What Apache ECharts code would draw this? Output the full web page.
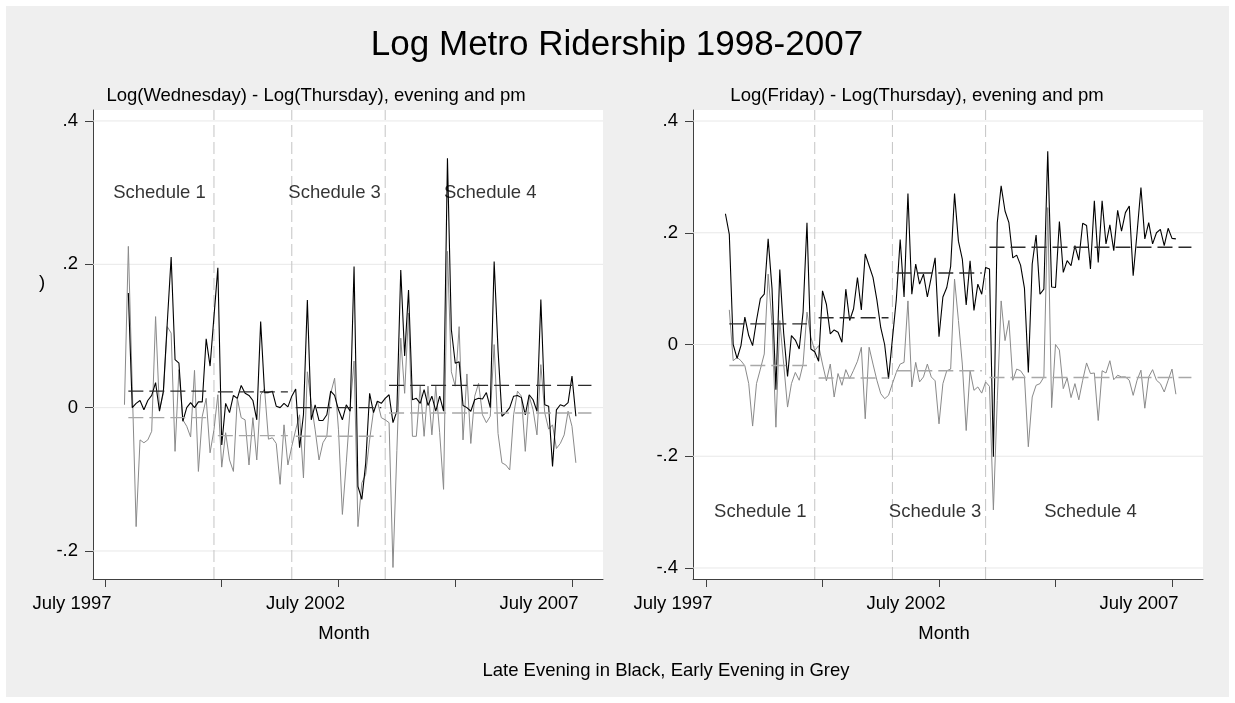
<!DOCTYPE html>
<html>
<head>
<meta charset="utf-8">
<script src="https://cdn.jsdelivr.net/npm/echarts@6/dist/echarts.min.js"></script>
<style>
  html, body { margin: 0; padding: 0; background: #ffffff; }
  #chart { width: 1235px; height: 703px; }
</style>
</head>
<body>
<div id="chart"></div>
<script>
// Months are counted from July 1997 (= 0); the first observation is Dec 1997.
const FIRST_MONTH = 5;

// Log(Wednesday) - Log(Thursday): late evening (black) and early evening (grey)
const wedLate = [
  null, 0.160, 0.000, 0.006, 0.010, -0.003, 0.010, 0.017, 0.035, -0.005,
  0.023, 0.118, 0.210, 0.067, 0.062, -0.019, 0.000, 0.007, 0.000, 0.008,
  0.008, 0.096, 0.058, 0.127, 0.195, -0.052, 0.006, -0.007, 0.017, 0.013,
  0.031, 0.020, 0.017, 0.010, -0.017, 0.120, 0.021, 0.021, 0.023, 0.002,
  0.000, 0.006, 0.001, 0.016, 0.026, -0.056, -0.010, 0.150, -0.017, 0.004,
  -0.018, -0.018, -0.010, 0.023, 0.017, -0.003, -0.017, 0.004, -0.005, 0.197,
  -0.110, -0.128, -0.077, 0.020, -0.007, 0.009, 0.006, 0.013, 0.018, -0.021,
  -0.005, 0.192, 0.072, 0.164, 0.011, 0.013, 0.006, 0.025, 0.003, 0.016,
  -0.005, 0.016, -0.005, 0.348, 0.109, 0.062, 0.064, 0.003, 0.000, -0.005,
  0.011, 0.013, 0.012, 0.021, 0.000, 0.204, 0.080, -0.012, -0.007, 0.000,
  0.016, 0.017, 0.014, -0.010, 0.018, 0.011, -0.005, 0.151, 0.004, 0.002,
  -0.082, -0.003, 0.004, 0.002, 0.007, 0.044, -0.012
];
const wedEarly = [
  0.004, 0.225, 0.030, -0.166, -0.045, -0.049, -0.045, -0.033, 0.127, -0.003,
  0.020, 0.113, 0.104, -0.061, 0.053, -0.017, -0.026, -0.041, 0.052, -0.089,
  -0.012, 0.013, -0.063, -0.031, 0.018, -0.083, -0.035, -0.073, -0.089, 0.013,
  -0.014, -0.017, -0.080, -0.014, -0.073, 0.018, 0.026, -0.044, -0.042, -0.050,
  -0.107, -0.024, -0.080, -0.054, -0.031, -0.010, -0.098, 0.050, 0.006, -0.031,
  -0.073, -0.049, -0.040, 0.020, 0.041, -0.031, -0.149, -0.077, 0.000, 0.065,
  -0.166, -0.105, -0.093, -0.045, -0.005, 0.009, -0.014, -0.017, -0.021, -0.223,
  -0.060, 0.097, 0.020, 0.132, -0.040, -0.040, 0.030, -0.040, 0.030, -0.038,
  0.030, -0.035, -0.114, 0.218, 0.050, 0.030, 0.113, -0.045, 0.047, -0.050,
  0.016, 0.034, -0.010, -0.021, -0.012, 0.088, -0.036, -0.077, -0.080, -0.087,
  -0.010, 0.023, 0.016, -0.061, 0.016, -0.003, -0.038, 0.060, -0.007, -0.030,
  -0.024, -0.057, -0.050, -0.038, -0.005, -0.026, -0.077
];

// Log(Friday) - Log(Thursday): late evening (black) and early evening (grey)
const friLate = [
  0.234, 0.197, 0.000, -0.025, -0.002, 0.049, 0.016, -0.002, 0.043, 0.082,
  0.090, 0.189, 0.100, -0.081, 0.134, 0.020, -0.057, 0.016, 0.008, -0.008,
  0.058, 0.218, -0.008, -0.013, -0.030, 0.096, 0.072, 0.019, 0.026, 0.022,
  0.004, 0.099, 0.043, 0.064, 0.120, 0.062, 0.162, 0.141, 0.120, 0.080,
  0.030, 0.000, -0.061, 0.010, 0.080, 0.188, 0.085, 0.270, 0.090, 0.144,
  0.108, 0.126, 0.085, 0.120, 0.155, 0.014, 0.085, 0.102, 0.140, 0.270,
  0.185, 0.153, 0.071, 0.150, 0.061, 0.108, 0.090, 0.138, 0.135, -0.201,
  0.218, 0.284, 0.239, 0.218, 0.155, 0.160, 0.142, 0.101, -0.050, 0.144,
  0.196, 0.090, 0.099, 0.346, 0.103, 0.102, 0.220, 0.129, 0.150, 0.141,
  0.177, 0.151, 0.217, 0.213, 0.135, 0.257, 0.147, 0.257, 0.180, 0.214,
  0.168, 0.240, 0.203, 0.236, 0.248, 0.123, 0.200, 0.281, 0.189, 0.218,
  0.180, 0.200, 0.206, 0.177, 0.208, 0.190, 0.189
];
const friEarly = [
  null, 0.062, -0.029, -0.023, -0.029, -0.038, -0.070, -0.146, -0.070, -0.044,
  -0.017, 0.126, 0.037, -0.148, 0.043, -0.035, -0.112, -0.070, -0.050, -0.064,
  -0.035, 0.058, 0.013, -0.011, -0.002, -0.035, -0.065, -0.035, -0.094, -0.052,
  -0.073, -0.045, -0.061, -0.046, -0.030, -0.005, -0.133, -0.005, -0.035, -0.064,
  -0.088, -0.097, -0.091, -0.070, -0.050, -0.035, -0.032, 0.078, -0.076, -0.032,
  -0.067, -0.058, -0.035, -0.058, -0.065, -0.142, -0.070, -0.047, -0.044, 0.117,
  0.043, -0.035, -0.154, -0.047, -0.082, -0.076, -0.087, -0.067, -0.075, -0.296,
  -0.100, 0.078, 0.007, 0.043, -0.064, -0.044, -0.047, -0.057, -0.183, -0.094,
  -0.073, -0.070, -0.058, 0.245, -0.113, 0.000, -0.010, -0.079, -0.060, -0.095,
  -0.070, -0.099, -0.064, -0.033, -0.052, -0.051, -0.136, -0.047, -0.051, -0.029,
  -0.063, -0.055, -0.058, -0.058, -0.064, -0.091, -0.064, -0.046, -0.114, -0.058,
  -0.045, -0.064, -0.070, -0.085, -0.064, -0.044, -0.089
];

// Schedule periods (first and last month) and the period means drawn as dashed lines
const periods = [[6, 26], [29, 47], [49, 71], [73, 125]];
const wedLateMeans = [0.023, 0.022, 0.000, 0.031];
const wedEarlyMeans = [-0.014, -0.039, -0.040, -0.0075];
const friLateMeans = [0.037, 0.048, 0.128, 0.174];
const friEarlyMeans = [-0.0375, -0.060, -0.047, -0.059];

// Schedule changes and their labels
const scheduleBreaks = [28, 48, 72];
const scheduleNames = ['Schedule 1', 'Schedule 3', 'Schedule 4'];
const scheduleLabelMonths = [14, 59, 99];
const wedLabelLevel = 0.3;
const friLabelLevel = -0.3;

// Axis ticks; the date labels end just past their tick
const xTicks = [0, 30, 60, 90, 120];
const xLabelTicks = [0, 60, 120];
const xTickLabels = { 0: 'July 1997', 60: 'July 2002', 120: 'July 2007' };
const X_LABEL_OVERHANG = 1.7; // months
const wedTicks = [-0.2, 0, 0.2, 0.4];
const friTicks = [-0.4, -0.2, 0, 0.2, 0.4];

const FONT = '"Liberation Sans", Arial, Helvetica, sans-serif';
const TEXT_SIZE = 18.5;

const panels = [
  {
    late: wedLate, early: wedEarly, lateMeans: wedLateMeans, earlyMeans: wedEarlyMeans,
    yTicks: wedTicks, labelLevel: wedLabelLevel,
    grid: { left: 93, top: 110, width: 510, height: 469 },
    x: [-3.083, 127.97], y: [-0.2391, 0.4153]
  },
  {
    late: friLate, early: friEarly, lateMeans: friLateMeans, earlyMeans: friEarlyMeans,
    yTicks: friTicks, labelLevel: friLabelLevel,
    grid: { left: 693, top: 110, width: 510, height: 469 },
    x: [-3.35, 127.98], y: [-0.4197, 0.4197]
  }
];

function toPoints(values) {
  return values.map((v, i) => [FIRST_MONTH + i, v == null ? '-' : v]);
}

function stataNumber(v) {
  if (Math.abs(v) < 1e-9) return '0';
  const s = Math.abs(v).toFixed(1).replace(/^0/, '');
  return (v < 0 ? '-' : '') + s;
}

const grids = [], xAxes = [], yAxes = [], series = [];

panels.forEach((p, i) => {
  grids.push(Object.assign({ show: true, backgroundColor: '#ffffff', borderWidth: 0 }, p.grid));

  xAxes.push({
    type: 'value', gridIndex: i, min: p.x[0], max: p.x[1],
    axisLine: { show: true, onZero: false, lineStyle: { color: '#404040', width: 1 } },
    axisTick: { show: true, customValues: xTicks, length: 8, lineStyle: { color: '#404040' } },
    axisLabel: {
      show: true, customValues: xLabelTicks.map(t => t + X_LABEL_OVERHANG), margin: 15,
      align: 'right',
      formatter: v => xTickLabels[Math.round(v - X_LABEL_OVERHANG)] || '',
      color: '#000', fontFamily: FONT, fontSize: TEXT_SIZE
    },
    splitLine: { show: false }
  });

  yAxes.push({
    type: 'value', gridIndex: i, min: p.y[0], max: p.y[1],
    axisLine: { show: true, onZero: false, lineStyle: { color: '#404040', width: 1 } },
    axisTick: { show: true, customValues: p.yTicks, length: 8, lineStyle: { color: '#404040' } },
    axisLabel: {
      show: true, customValues: p.yTicks, margin: 15,
      formatter: stataNumber, color: '#000', fontFamily: FONT, fontSize: TEXT_SIZE
    },
    splitLine: { show: false }
  });

  const base = { xAxisIndex: i, yAxisIndex: i, type: 'line', symbol: 'none', silent: true, animation: false };

  // horizontal grid lines at the labelled values
  p.yTicks.forEach(t => {
    series.push(Object.assign({}, base, {
      data: [[p.x[0], t], [p.x[1], t]],
      lineStyle: { color: '#e8e8e8', width: 1 }, z: 1
    }));
  });

  // schedule changes
  scheduleBreaks.forEach(b => {
    series.push(Object.assign({}, base, {
      data: [[b, p.y[0]], [b, p.y[1]]],
      lineStyle: { color: '#c4c4c4', width: 1, type: [12, 5] }, z: 2
    }));
  });

  // early evening (grey) and late evening (black)
  series.push(Object.assign({}, base, {
    data: toPoints(p.early), connectNulls: false,
    lineStyle: { color: '#8a8a8a', width: 1 }, z: 3
  }));
  series.push(Object.assign({}, base, {
    data: toPoints(p.late), connectNulls: false,
    lineStyle: { color: '#000000', width: 1.1 }, z: 4
  }));

  // period means
  periods.forEach((per, k) => {
    series.push(Object.assign({}, base, {
      data: [[per[0], p.earlyMeans[k]], [per[1], p.earlyMeans[k]]],
      lineStyle: { color: '#a8a8a8', width: 1.4, type: [15, 6] }, z: 5
    }));
    series.push(Object.assign({}, base, {
      data: [[per[0], p.lateMeans[k]], [per[1], p.lateMeans[k]]],
      lineStyle: { color: '#2a2a2a', width: 1.4, type: [15, 6] }, z: 6
    }));
  });

  // schedule labels
  series.push({
    type: 'scatter', xAxisIndex: i, yAxisIndex: i, silent: true, animation: false,
    symbolSize: 0, z: 7,
    data: scheduleNames.map((n, k) => ({ name: n, value: [scheduleLabelMonths[k], p.labelLevel] })),
    label: {
      show: true, position: 'inside', formatter: d => d.name,
      color: '#000', fontFamily: FONT, fontSize: TEXT_SIZE
    }
  });
});

const textStyle = (size) => ({ fill: '#000', font: size + 'px ' + FONT, textAlign: 'center', textVerticalAlign: 'middle' });

const chart = echarts.init(document.getElementById('chart'), null, { renderer: 'canvas' });
chart.setOption({
  backgroundColor: '#ffffff',
  animation: false,
  grid: grids,
  xAxis: xAxes,
  yAxis: yAxes,
  series: series,
  graphic: [
    { type: 'rect', z: -100, silent: true, shape: { x: 6, y: 6, width: 1223, height: 691 }, style: { fill: '#efefef' } },
    { type: 'text', x: 617, y: 45, silent: true, style: Object.assign({ text: 'Log Metro Ridership 1998-2007' }, textStyle(35)) },
    { type: 'text', x: 316, y: 96, silent: true, style: Object.assign({ text: 'Log(Wednesday) - Log(Thursday), evening and pm' }, textStyle(TEXT_SIZE)) },
    { type: 'text', x: 917, y: 96, silent: true, style: Object.assign({ text: 'Log(Friday) - Log(Thursday), evening and pm' }, textStyle(TEXT_SIZE)) },
    { type: 'text', x: 42, y: 283, silent: true, style: Object.assign({ text: ')' }, textStyle(TEXT_SIZE)) },
    { type: 'text', x: 344, y: 634, silent: true, style: Object.assign({ text: 'Month' }, textStyle(TEXT_SIZE)) },
    { type: 'text', x: 944, y: 634, silent: true, style: Object.assign({ text: 'Month' }, textStyle(TEXT_SIZE)) },
    { type: 'text', x: 666, y: 671, silent: true, style: Object.assign({ text: 'Late Evening in Black, Early Evening in Grey' }, textStyle(TEXT_SIZE)) }
  ]
});
</script>
</body>
</html>
